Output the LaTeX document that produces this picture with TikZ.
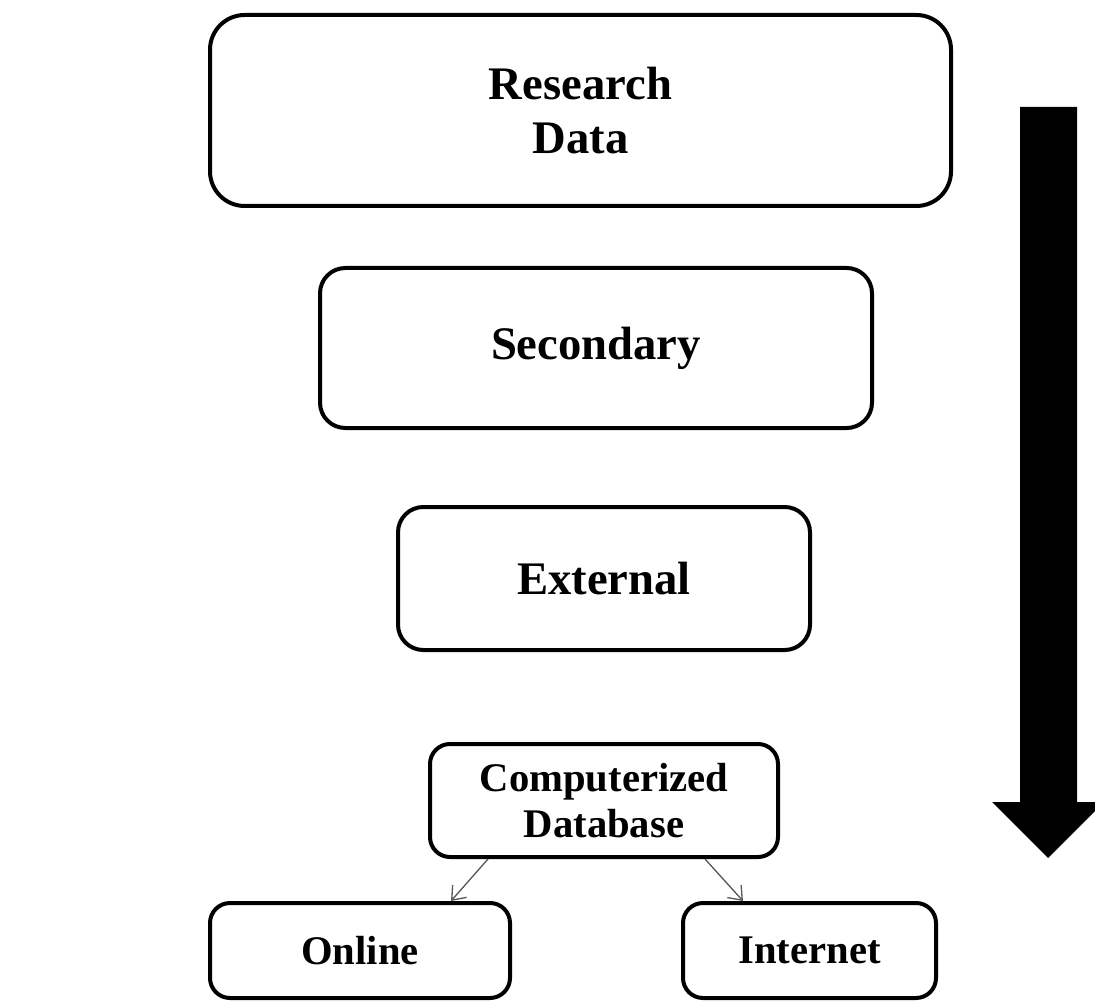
\documentclass[tikz,border=0pt]{standalone}
\usepackage{fontspec}
\setmainfont{Liberation Serif}
\usetikzlibrary{arrows.meta,calc}
\tikzset{
  box/.style={draw=black, line width=3pt, fill=white, rounded corners=19pt, inner sep=0pt, align=center, font=\bfseries\fontsize{35pt}{41pt}\selectfont},
  smallbox/.style={box, rounded corners=15pt, font=\bfseries\fontsize{30.5pt}{34.5pt}\selectfont},
  conn/.style={draw=black!65, line width=1pt, -{Straight Barb[length=9pt,width=14pt,line width=1pt]}},
  bigarrow/.style={fill=black, draw=none}
}
\begin{document}
\begin{tikzpicture}[x=0.75pt,y=-0.75pt]
\useasboundingbox (0,0) rectangle (1095,1005);
\clip (0,0) rectangle (1095,1005);
\node[box, rounded corners=26pt, minimum width=741*0.75pt, minimum height=191*0.75pt] (rd) at (580.5,110.5) {Research\\Data};
\node[box, minimum width=552*0.75pt, minimum height=160*0.75pt] (sec) at (596,348) {Secondary};
\node[box, minimum width=412*0.75pt, minimum height=143*0.75pt] (ext) at (604,578.5) {External};
\node[smallbox, minimum width=348*0.75pt, minimum height=113*0.75pt] (cd) at (604,800.5) {Computerized\\Database};
\node[smallbox, minimum width=300*0.75pt, minimum height=95*0.75pt] (on) at (360,950.5) {Online};
\node[smallbox, minimum width=253*0.75pt, minimum height=95*0.75pt] (in) at (809.5,950.5) {Internet};
\draw[conn] ($(cd.south west)+(60,0)$) -- ($(on.north east)+(-61,0)$);
\draw[conn] ($(cd.south east)+(-75,0)$) -- ($(in.north west)+(62,0)$);
\fill[bigarrow] (1020,107) -- (1077,107) -- (1077,802) -- (1104,802) -- (1048,858) -- (992,802) -- (1020,802) -- cycle;
\end{tikzpicture}
\end{document}
